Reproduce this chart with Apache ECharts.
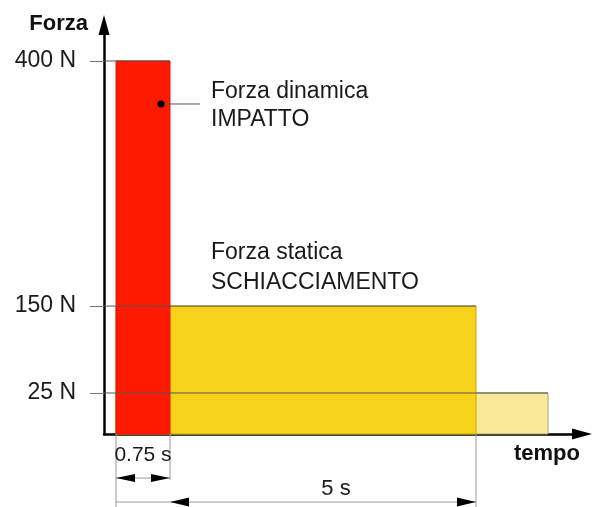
<!DOCTYPE html>
<html><head><meta charset="utf-8">
<script src="https://cdn.jsdelivr.net/npm/echarts@6/dist/echarts.min.js"></script>
<style>html,body{margin:0;padding:0;background:#fff}#c{width:595px;height:507px}</style>
</head><body><div id="c"></div>
<script>
// ---------- data ----------
const phaseLabels = ['Forza dinamica\nIMPATTO', 'Forza statica\nSCHIACCIAMENTO', ''];
const phaseStart = [0, 0, 0];          // s
const phaseEnd = [0.75, 5, 6];         // s
const phaseForce = [400, 150, 25];     // N
const forceTicks = [25, 150, 400];
const forceTickLabels = ['25 N', '150 N', '400 N'];
const timeMarks = [0, 0.75, 5];        // s
const timeMarkLabels = ['0.75 s', '5 s'];
const axisNames = ['Forza', 'tempo'];

// schematic (not-to-scale) force axis: piecewise-linear warp of force -> axis level
const warpForce = [0, 25, 150, 400];
const warpLevel = [0, 11, 34.3, 100];
function warp(f) {
  for (let i = 1; i < warpForce.length; i++) {
    if (f <= warpForce[i]) {
      const a = warpForce[i - 1], b = warpForce[i];
      return warpLevel[i - 1] + (f - a) / (b - a) * (warpLevel[i] - warpLevel[i - 1]);
    }
  }
  return warpLevel[warpLevel.length - 1];
}

// ---------- styles ----------
const FONT = 'Liberation Sans, Arial, sans-serif';
const fills = ['#fe1a00', '#f6d31a', '#f8e898'];
const strokes = ['#e81200', '#c8a800', '#a8a27a'];
const TXT = '#1a1a1a';

const chart = echarts.init(document.getElementById('c'), null, {renderer: 'canvas'});

const drawOrder = [2, 1, 0];
const barData = drawOrder.map(i => [phaseStart[i], phaseEnd[i], warp(phaseForce[i]), i]);

function renderBar(params, api) {
  const i = api.value(3);
  const lvl = api.value(2);
  const p0 = api.coord([api.value(0), lvl]);
  const p1 = api.coord([api.value(1), 0]);
  return {
    type: 'rect',
    shape: {x: p0[0], y: p0[1], width: p1[0] - p0[0], height: p1[1] - p0[1]},
    style: {fill: fills[i], stroke: strokes[i], lineWidth: 1}
  };
}

function renderLeader(params, api) {
  const lvl = api.value(2);
  const p1 = api.coord([api.value(1), lvl]);
  const x0 = params.coordSys.x;
  return {
    type: 'line',
    shape: {x1: x0, y1: p1[1], x2: p1[0], y2: p1[1]},
    style: {stroke: '#555', lineWidth: 1}
  };
}

function renderLabels(params, api) {
  const i = api.value(3);
  const children = [];
  const redEnd = api.coord([phaseEnd[0], warp(phaseForce[0])]);
  const top = api.coord([api.value(1), api.value(2)]);
  if (i === 0) {
    const dot = [top[0] - 9, top[1] + 43];
    children.push({type: 'line', shape: {x1: dot[0], y1: dot[1], x2: top[0] + 30, y2: dot[1]}, style: {stroke: '#555', lineWidth: 1}});
    children.push({type: 'circle', shape: {cx: dot[0], cy: dot[1], r: 3.5}, style: {fill: '#000'}});
    children.push({type: 'text', x: redEnd[0] + 41, y: top[1] + 16,
      style: {text: phaseLabels[i], font: '23px ' + FONT, fill: TXT, lineHeight: 28.5, verticalAlign: 'top', align: 'left'}});
  } else if (i === 1) {
    children.push({type: 'text', x: redEnd[0] + 41, y: top[1] - 68,
      style: {text: phaseLabels[i], font: '23px ' + FONT, fill: TXT, lineHeight: 30, verticalAlign: 'top', align: 'left'}});
  }
  return {type: 'group', children};
}

function arrowHead(tipX, y, dir, len, h) {
  return {type: 'polygon', shape: {points: [[tipX, y], [tipX - dir * len, y - h], [tipX - dir * len, y + h]]}, style: {fill: '#000'}};
}

function renderDims(params, api) {
  const base = api.coord([0, 0])[1];
  const xs = timeMarks.map(t => api.coord([t, 0])[0]);
  const ext = [73, 46, 73];
  const c = [];
  xs.forEach((x, k) => c.push({type: 'line', shape: {x1: x, y1: base, x2: x, y2: base + ext[k]}, style: {stroke: '#999', lineWidth: 1}}));
  // 0.75 s dimension
  const y1 = base + 44;
  c.push({type: 'line', shape: {x1: xs[0], y1: y1, x2: xs[1], y2: y1}, style: {stroke: '#999', lineWidth: 1}});
  c.push(arrowHead(xs[0], y1, -1, 19, 4));
  c.push(arrowHead(xs[1], y1, 1, 19, 4));
  c.push({type: 'text', x: (xs[0] + xs[1]) / 2, y: base + 21,
    style: {text: timeMarkLabels[0], font: '21px ' + FONT, fill: TXT, align: 'center', verticalAlign: 'middle'}});
  // 5 s dimension
  const y2 = base + 68;
  c.push({type: 'line', shape: {x1: xs[0], y1: y2, x2: xs[2], y2: y2}, style: {stroke: '#999', lineWidth: 1}});
  c.push(arrowHead(xs[1], y2, -1, 19, 4.5));
  c.push(arrowHead(xs[2], y2, 1, 19, 4.5));
  c.push({type: 'text', x: (xs[1] + xs[2]) / 2 + 13, y: base + 55,
    style: {text: timeMarkLabels[1], font: '22px ' + FONT, fill: TXT, align: 'center', verticalAlign: 'middle'}});
  return {type: 'group', children: c};
}

const tickLevels = forceTicks.map(warp);

const option = {
  animation: false,
  backgroundColor: '#fff',
  grid: {left: 104, right: 13, top: 25, bottom: 73, containLabel: false},
  xAxis: {
    type: 'value', min: -1 / 6, max: 6.4722,
    name: axisNames[1], nameLocation: 'end', nameGap: -2,
    nameTextStyle: {fontFamily: FONT, fontWeight: 'bold', fontSize: 22, color: '#111', align: 'right', verticalAlign: 'top', lineHeight: 40},
    axisLine: {show: true, onZero: false, symbol: ['none', 'triangle'], symbolSize: [11, 20], lineStyle: {color: '#000', width: 2.5}},
    axisTick: {show: false}, axisLabel: {show: false}, splitLine: {show: false}
  },
  yAxis: {
    type: 'value', min: 0, max: 109.65,
    name: axisNames[0], nameLocation: 'end', nameGap: 1,
    nameTextStyle: {fontFamily: FONT, fontWeight: 'bold', fontSize: 22, color: '#111', align: 'right', verticalAlign: 'middle', padding: [0, 16, 0, 0]},
    axisLine: {show: true, onZero: false, symbol: ['none', 'triangle'], symbolSize: [11, 20], lineStyle: {color: '#000', width: 2.5}},
    axisTick: {show: true, customValues: tickLevels, length: 14, lineStyle: {color: '#777', width: 1}},
    axisLabel: {
      show: true, customValues: tickLevels, margin: 28, fontSize: 23, fontFamily: FONT, color: TXT,
      formatter: v => {
        const k = tickLevels.findIndex(l => Math.abs(l - v) < 1e-6);
        return k >= 0 ? forceTickLabels[k] : '';
      }
    },
    splitLine: {show: false}
  },
  series: [
    {type: 'custom', name: 'bars', renderItem: renderBar, data: barData, clip: false, z: 2, silent: true},
    {type: 'custom', name: 'leaders', renderItem: renderLeader, data: barData, clip: false, z: 3, silent: true},
    {type: 'custom', name: 'labels', renderItem: renderLabels, data: barData, clip: false, z: 4, silent: true},
    {type: 'custom', name: 'dims', renderItem: renderDims, data: [[0, 0]], clip: false, z: 4, silent: true}
  ]
};
chart.setOption(option);
</script>
</body></html>
